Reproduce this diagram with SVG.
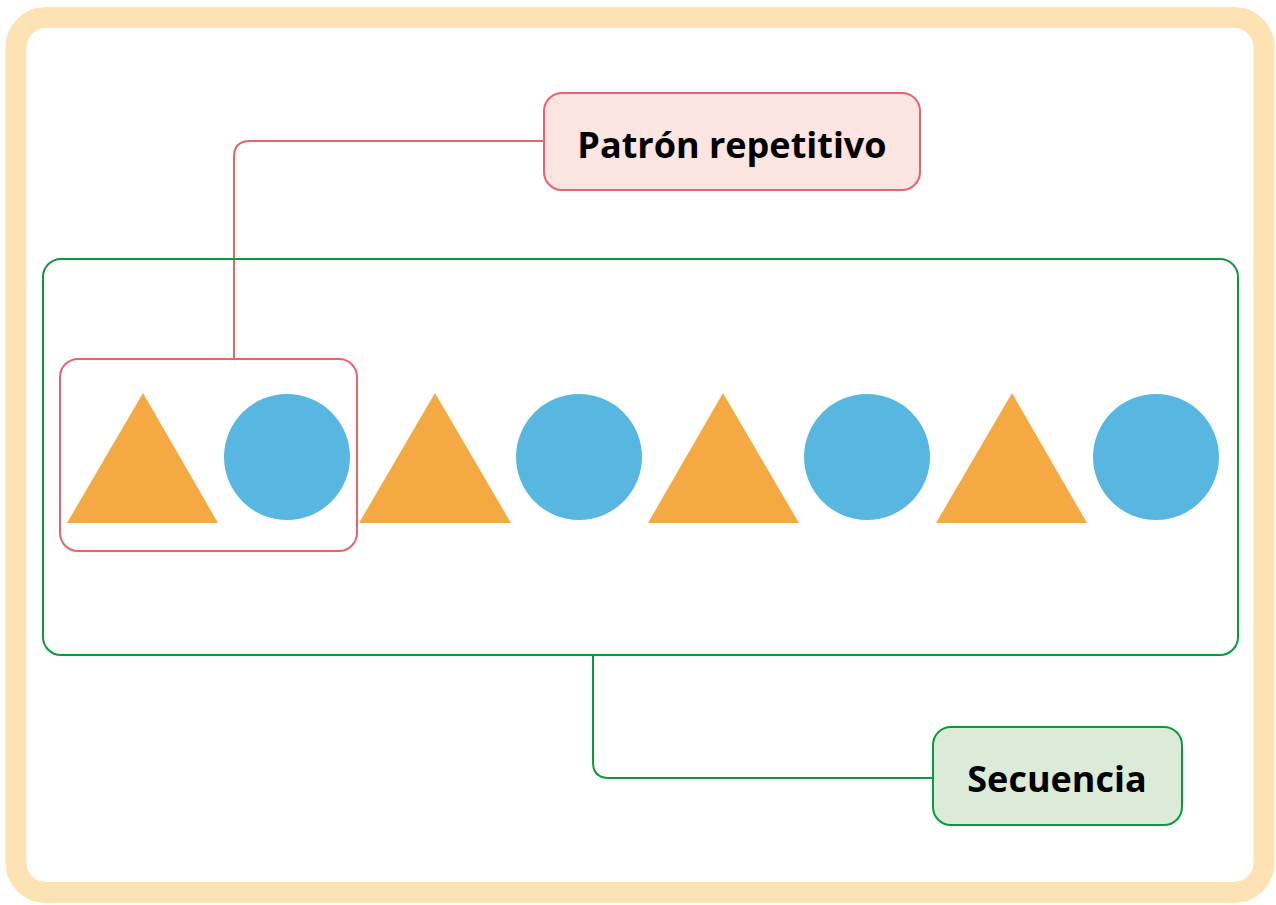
<svg xmlns="http://www.w3.org/2000/svg" width="1276" height="905" viewBox="0 0 1276 905">
<style>
.tri{fill:#f5a942}
.cir{fill:#58b7e0}
.lbl{font-family:"Open Sans","Noto Sans","Liberation Sans",sans-serif;font-weight:bold;font-size:36px;fill:#000;text-anchor:middle}
.red{stroke:#e8636b;stroke-width:2;fill:none}
.grn{stroke:#0a9a3c;stroke-width:2;fill:none}
</style>
<rect x="0" y="0" width="1276" height="905" fill="#fff"/>
<rect x="16" y="17.5" width="1248" height="875" rx="30" fill="#fff" stroke="#fde3b3" stroke-width="21"/>
<g id="connectors">
<path class="red" d="M544 141 H250 Q234 141 234 157 V359"/>
<path class="grn" d="M593 655 V762 Q593 778 609 778 H933"/>
</g>
<g id="secuencia-frame">
<rect class="grn" x="43" y="259" width="1195" height="396" rx="18"/>
</g>
<g id="shapes">
<polygon class="tri" points="143,393 218,523 67,523"/>
<circle class="cir" cx="287" cy="457" r="63"/>
<polygon class="tri" points="435,393 511,523 359,523"/>
<circle class="cir" cx="579" cy="457" r="63"/>
<polygon class="tri" points="723,393 799,523 648,523"/>
<circle class="cir" cx="867" cy="457" r="63"/>
<polygon class="tri" points="1012,393 1087,523 936,523"/>
<circle class="cir" cx="1156" cy="457" r="63"/>
</g>
<g id="patron-frame">
<rect class="red" x="60" y="359" width="297" height="192" rx="18"/>
</g>
<g id="patron-label">
<rect x="544" y="93" width="376" height="97" rx="18" fill="#fce4e1" stroke="#e8636b" stroke-width="2"/>
<text class="lbl" x="732" y="158">Patrón repetitivo</text>
</g>
<g id="secuencia-label">
<rect x="933" y="727" width="249" height="98" rx="18" fill="#dcebd8" stroke="#0a9a3c" stroke-width="2"/>
<text class="lbl" x="1057" y="792">Secuencia</text>
</g>
</svg>
